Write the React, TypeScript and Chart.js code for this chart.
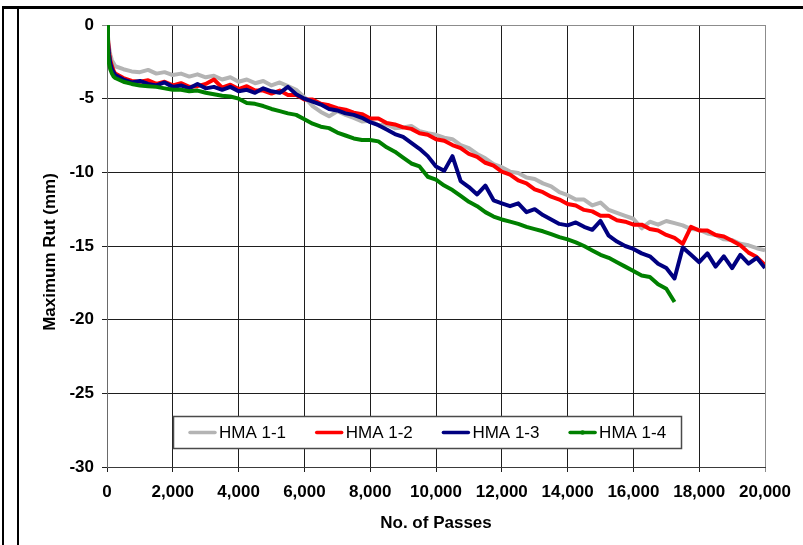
import React, { useEffect, useRef } from 'react';
import { Chart, registerables } from 'chart.js';

Chart.register(...registerables);

// Number of passes (x values)
const passes = [
  0, 30, 60, 100, 150, 200, 250,
  500, 750, 1000, 1250, 1500, 1750, 2000, 2250, 2500, 2750,
  3000, 3250, 3500, 3750, 4000, 4250, 4500, 4750, 5000, 5250,
  5500, 5750, 6000, 6250, 6500, 6750, 7000, 7250, 7500, 7750,
  8000, 8250, 8500, 8750, 9000, 9250, 9500, 9750, 10000, 10250,
  10500, 10750, 11000, 11250, 11500, 11750, 12000, 12250, 12500, 12750,
  13000, 13250, 13500, 13750, 14000, 14250, 14500, 14750, 15000, 15250,
  15500, 15750, 16000, 16250, 16500, 16750, 17000, 17250, 17500, 17750,
  18000, 18250, 18500, 18750, 19000, 19250, 19500, 19750, 20000,
];

const hma11 = [
  0, -0.8, -1.5, -2.0, -2.4, -2.6, -2.8,
  -3.0, -3.15, -3.2, -3.05, -3.3, -3.2, -3.4, -3.3, -3.5, -3.35,
  -3.55, -3.45, -3.7, -3.55, -3.85, -3.7, -3.95, -3.8, -4.1, -3.9,
  -4.15, -4.4, -4.9, -5.5, -5.9, -6.2, -5.85, -6.1, -6.3, -6.55,
  -6.5, -6.8, -6.75, -7.0, -6.95, -6.85, -7.2, -7.35, -7.45, -7.65,
  -7.75, -8.15, -8.35, -8.75, -9.05, -9.45, -9.65, -9.95, -10.05, -10.35,
  -10.45, -10.75, -10.95, -11.35, -11.55, -11.85, -11.85, -12.25, -12.05, -12.55,
  -12.75, -12.95, -13.15, -13.8, -13.35, -13.55, -13.3, -13.45, -13.6, -13.85,
  -13.9, -14.15, -14.25, -14.55, -14.6, -14.85, -14.95, -15.15, -15.3,
];

const hma12 = [
  0, -1.0, -1.8, -2.4, -2.8, -3.1, -3.3,
  -3.6, -3.8, -3.85, -3.75, -4.0, -3.85, -4.1, -3.95, -4.2, -4.15,
  -4.0, -3.7, -4.25, -4.05, -4.35, -4.15, -4.45, -4.45, -4.65, -4.45,
  -4.75, -4.75, -5.05, -5.05, -5.35, -5.45, -5.65, -5.75, -5.95, -6.05,
  -6.35, -6.35, -6.65, -6.75, -6.95, -7.05, -7.35, -7.45, -7.75, -7.85,
  -8.15, -8.35, -8.75, -8.95, -9.35, -9.55, -9.95, -10.15, -10.55, -10.75,
  -11.15, -11.35, -11.65, -11.85, -12.15, -12.25, -12.55, -12.65, -12.95, -12.95,
  -13.25, -13.35, -13.55, -13.55, -13.85, -13.95, -14.25, -14.45, -14.85, -13.7,
  -13.95, -13.95, -14.25, -14.35, -14.65, -14.95, -15.45, -15.75, -16.3,
];

const hma13 = [
  0, -1.2, -2.0, -2.6, -3.0, -3.2, -3.4,
  -3.7, -3.9, -3.8, -4.0, -4.1, -3.9, -4.2, -4.1, -4.3, -4.0,
  -4.3, -4.2, -4.4, -4.2, -4.5, -4.4, -4.6, -4.3, -4.5, -4.6,
  -4.2, -4.7, -5.0, -5.2, -5.4, -5.7, -5.8, -6.0, -6.1, -6.3,
  -6.6, -6.8, -7.1, -7.4, -7.6, -8.0, -8.4, -8.9, -9.6, -9.9,
  -8.9, -10.6, -11.0, -11.5, -10.9, -11.9, -12.1, -12.3, -12.1, -12.7,
  -12.5, -12.9, -13.2, -13.5, -13.6, -13.4, -13.7, -13.9, -13.3, -14.3,
  -14.7, -15.0, -15.2, -15.5, -15.7, -16.2, -16.5, -17.2, -15.1, -15.6,
  -16.1, -15.5, -16.4, -15.7, -16.5, -15.6, -16.2, -15.8, -16.5,
];

const hma14 = [
  0, -1.8, -2.6, -3.0, -3.3, -3.5, -3.6,
  -3.85, -4.0, -4.1, -4.15, -4.2, -4.3, -4.4, -4.4, -4.5, -4.45,
  -4.6, -4.7, -4.8, -4.85, -5.0, -5.3, -5.35, -5.5, -5.7, -5.85,
  -6.0, -6.1, -6.4, -6.7, -6.9, -7.0, -7.3, -7.5, -7.7, -7.8,
  -7.8, -7.9, -8.3, -8.6, -9.0, -9.4, -9.6, -10.3, -10.5, -10.9,
  -11.2, -11.6, -12.0, -12.3, -12.7, -13.0, -13.2, -13.35, -13.5, -13.7,
  -13.85, -14.0, -14.2, -14.4, -14.55, -14.75, -15.0, -15.3, -15.6, -15.8,
  -16.1, -16.4, -16.7, -17.0, -17.1, -17.6, -17.9, -18.8,
];

const seriesLabels = ['HMA 1-1', 'HMA 1-2', 'HMA 1-3', 'HMA 1-4'];
const seriesValues = [hma11, hma12, hma13, hma14];
const seriesColors = ['#b4b4b4', '#ff0000', '#000080', '#008000'];

const xTickValues = [0, 2000, 4000, 6000, 8000, 10000, 12000, 14000, 16000, 18000, 20000];
const yTickValues = [0, -5, -10, -15, -20, -25, -30];

const xTitle = 'No. of Passes';
const yTitle = 'Maximum Rut (mm)';

const FONT = '"Liberation Sans", Arial, Helvetica, sans-serif';

const framePlugin = {
  id: 'frame',
  beforeDraw(chart: any) {
    const ctx = chart.ctx;
    ctx.save();
    ctx.fillStyle = '#ffffff';
    ctx.fillRect(0, 0, chart.width, chart.height);
    ctx.fillStyle = '#000000';
    ctx.fillRect(2, 6, chart.width - 2, 3);
    ctx.fillRect(2, 6, 2, chart.height - 6);
    ctx.fillRect(17, 6, 2, chart.height - 6);
    ctx.restore();
  },
  afterDraw(chart: any) {
    const ctx = chart.ctx;
    ctx.save();
    ctx.fillStyle = '#000000';
    ctx.font = 'bold 17px ' + FONT;
    ctx.textAlign = 'center';
    ctx.textBaseline = 'middle';
    ctx.translate(50, 252);
    ctx.rotate(-Math.PI / 2);
    ctx.fillText(yTitle, 0, 0);
    ctx.restore();
  },
};

const boxLegendPlugin = {
  id: 'boxLegend',
  afterDatasetsDraw(chart: any) {
    const ctx = chart.ctx;
    ctx.save();
    const bx = 173.5, by = 416.5, bw = 508, bh = 32;
    ctx.fillStyle = '#ffffff';
    ctx.fillRect(bx, by, bw, bh);
    ctx.strokeStyle = '#4a4a4a';
    ctx.lineWidth = 1.5;
    ctx.strokeRect(bx, by, bw, bh);
    const y = 432.5;
    chart.data.datasets.forEach((ds: any, i: number) => {
      const x0 = 190 + i * 126.7;
      ctx.strokeStyle = ds.borderColor;
      ctx.lineWidth = 3.5;
      ctx.lineCap = 'round';
      ctx.beginPath();
      ctx.moveTo(x0, y);
      ctx.lineTo(x0 + 25, y);
      ctx.stroke();
      if (i === 3) {
        ctx.fillStyle = ds.borderColor;
        ctx.beginPath();
        ctx.arc(x0 + 12.5, y, 2.2, 0, Math.PI * 2);
        ctx.fill();
      }
      ctx.fillStyle = '#000000';
      ctx.font = '17px ' + FONT;
      ctx.textBaseline = 'middle';
      ctx.textAlign = 'left';
      ctx.fillText(ds.label, x0 + 29, y + 1);
    });
    ctx.restore();
  },
};

export default function App() {
  const canvasRef = useRef<HTMLCanvasElement | null>(null);

  useEffect(() => {
    if (!canvasRef.current) return;
    const datasets = seriesLabels.map((label, i) => ({
      label,
      data: seriesValues[i].map((v, j) => ({ x: passes[j], y: v })),
      borderColor: seriesColors[i],
      backgroundColor: seriesColors[i],
      borderWidth: 4,
      borderJoinStyle: 'round',
      pointRadius: 0,
      tension: 0,
      fill: false,
      order: 3 - i,
    }));

    const chart = new Chart(canvasRef.current, {
      type: 'line',
      data: { datasets },
      options: {
        animation: false,
        responsive: false,
        devicePixelRatio: 1,
        layout: { padding: { left: 0, top: 25, right: 38, bottom: 0 } },
        plugins: {
          legend: { display: false },
          tooltip: { enabled: false },
        },
        scales: {
          x: {
            type: 'linear',
            min: 0,
            max: 20000,
            afterBuildTicks: (scale: any) => {
              scale.ticks = xTickValues.map((v) => ({ value: v }));
            },
            ticks: {
              autoSkip: false,
              maxRotation: 0,
              color: '#000',
              padding: 10,
              font: { family: FONT, size: 17, weight: 'bold' },
              callback: (v: any) => Number(v).toLocaleString('en-US'),
            },
            grid: {
              color: (c: any) => (c.tick && c.tick.value === 20000 ? '#8c8c8c' : '#1e1e1e'),
              lineWidth: 1,
              tickLength: 5,
            },
            border: { color: '#3a3a3a', width: 1 },
            title: {
              display: true,
              text: xTitle,
              color: '#000',
              font: { family: FONT, size: 17, weight: 'bold' },
              padding: { top: 0, bottom: 11 },
            },
            afterFit: (scale: any) => {
              scale.height = 78;
            },
          },
          y: {
            type: 'linear',
            min: -30,
            max: 0,
            afterBuildTicks: (scale: any) => {
              scale.ticks = yTickValues.map((v) => ({ value: v }));
            },
            ticks: {
              color: '#000',
              padding: 8,
              font: { family: FONT, size: 17, weight: 'bold' },
              callback: (v: any) => String(v),
            },
            grid: {
              color: (c: any) => (c.tick && c.tick.value === 0 ? '#8c8c8c' : '#1e1e1e'),
              lineWidth: 1,
              tickLength: 5,
            },
            border: { color: '#6a6a6a', width: 1 },
            title: { display: false },
            afterFit: (scale: any) => {
              scale.width = 107;
            },
          },
        },
      },
      plugins: [framePlugin, boxLegendPlugin],
    } as any);

    return () => chart.destroy();
  }, []);

  return (
    <div style={{ position: 'absolute', left: 0, top: 0, width: 803, height: 545 }}>
      <canvas ref={canvasRef} width={803} height={545} style={{ display: 'block' }} />
    </div>
  );
}
